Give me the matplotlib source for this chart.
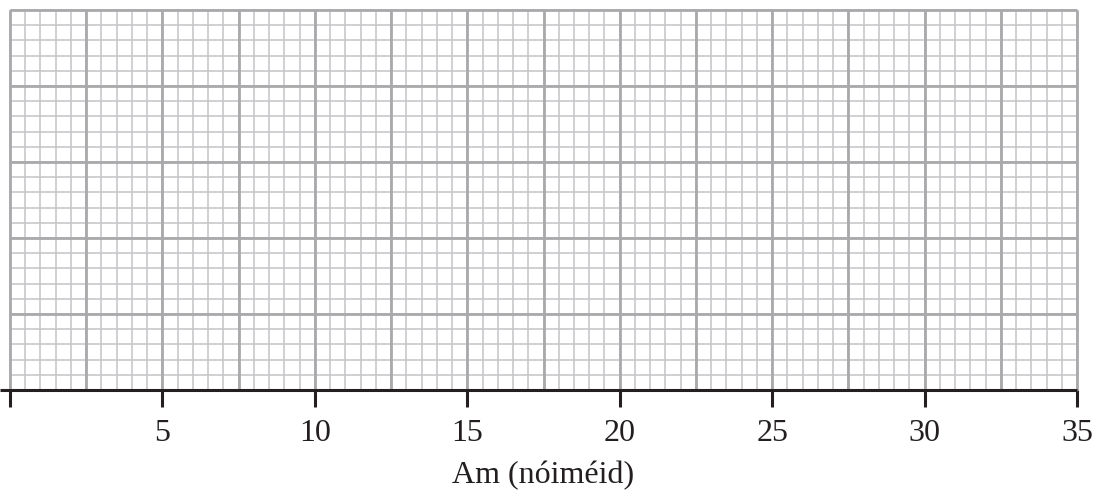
import numpy as np
import matplotlib
matplotlib.use("Agg")
import matplotlib.pyplot as plt

# axis ranges and tick values
x_min, x_max = 0, 35
y_min, y_max = 0, 5
x_major_ticks = [0, 5, 10, 15, 20, 25, 30, 35]
x_tick_labels = ["", "5", "10", "15", "20", "25", "30", "35"]
x_label = "Am (nóiméid)"

grid_x_major = 2.5
grid_x_minor = 0.5
grid_y_major = 1.0
grid_y_minor = 0.2

MINOR_COLOR = "#c4c4c6"
MAJOR_COLOR = "#a9a9ab"
INK = "#231f20"

fig = plt.figure(figsize=(10.93, 4.94), dpi=100)
ax = fig.add_axes([10 / 1093, 1 - 390 / 494, 1067 / 1093, 380 / 494])
ax.set_xlim(x_min, x_max)
ax.set_ylim(y_min, y_max)

# graph paper: minor lines first, majors over them
xs_minor = np.arange(x_min, x_max + 1e-9, grid_x_minor)
ys_minor = np.arange(y_min, y_max + 1e-9, grid_y_minor)
xs_major = np.arange(x_min, x_max + 1e-9, grid_x_major)
ys_major = np.arange(y_min, y_max + 1e-9, grid_y_major)

ax.vlines(xs_minor, y_min, y_max, color=MINOR_COLOR, lw=1.1, zorder=1, clip_on=False)
ax.hlines(ys_minor, x_min, x_max, color=MINOR_COLOR, lw=1.1, zorder=1, clip_on=False)
ax.vlines(xs_major, y_min, y_max, color=MAJOR_COLOR, lw=2.0, zorder=2, clip_on=False)
ax.hlines(ys_major, x_min, x_max, color=MAJOR_COLOR, lw=2.0, zorder=2, clip_on=False)

# x axis line, runs a little past the origin on the left
ax.plot([-0.33, x_max], [0, 0], color=INK, lw=2.2, zorder=5,
        clip_on=False, solid_capstyle="butt")

for s in ax.spines.values():
    s.set_visible(False)

ax.set_yticks([])
ax.set_xticks(x_major_ticks)
ax.set_xticklabels(x_tick_labels, fontfamily="Liberation Serif", fontsize=23,
                   color=INK)
ax.tick_params(axis="x", direction="out", length=12, width=2.2,
               color=INK, pad=9)
ax.set_xlabel(x_label, fontfamily="Liberation Serif", fontsize=23,
              color=INK, labelpad=9)

fig.savefig("out.png", dpi=100)
